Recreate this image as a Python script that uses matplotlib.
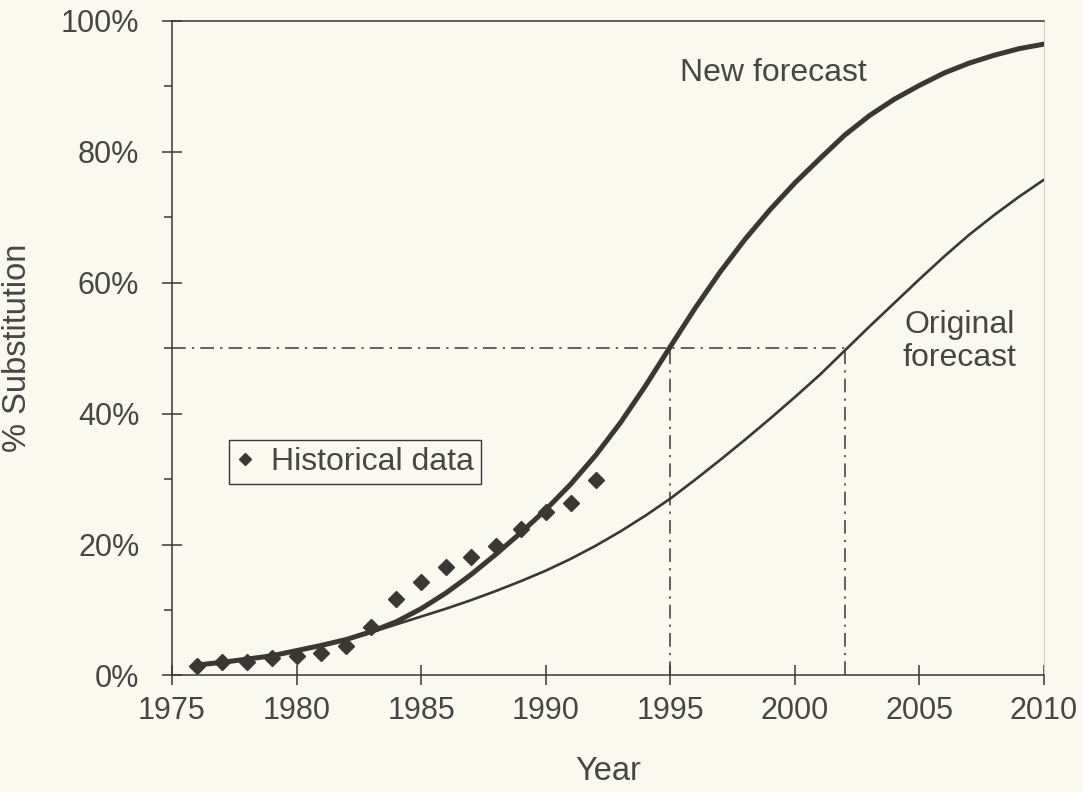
import matplotlib
matplotlib.use("Agg")
import matplotlib.pyplot as plt
from matplotlib.ticker import MultipleLocator, FuncFormatter

BG = "#f9f9ef"
INK = "#3a3734"
TXT = "#484643"

years = list(range(1976, 2011))

# substitution forecasts, %
new_forecast = [1.6, 2.0, 2.5, 3.0, 3.8, 4.6, 5.5, 6.7, 8.2, 10.2, 12.6, 15.4, 18.5, 21.8,
                25.3, 29.2, 33.6, 38.6, 44.2, 50.2, 56.1, 61.6, 66.6, 71.1, 75.2, 78.9,
                82.5, 85.5, 88.0, 90.1, 92.0, 93.5, 94.7, 95.7, 96.4]
original_forecast = [1.6, 2.0, 2.5, 3.0, 3.7, 4.5, 5.5, 6.6, 7.8, 9.0, 10.2, 11.5, 12.9, 14.4,
                     16.0, 17.8, 19.8, 22.0, 24.4, 27.0, 29.9, 32.9, 36.0, 39.2, 42.5, 45.9,
                     49.6, 53.3, 56.9, 60.5, 64.0, 67.3, 70.3, 73.1, 75.7]

hist_years = list(range(1976, 1993))
hist_values = [1.5, 2.0, 2.1, 2.7, 3.0, 3.4, 4.5, 7.4, 11.7, 14.2, 16.6, 18.1, 19.7, 22.4,
               24.9, 26.4, 29.8]

half_level = 50
cross_years = [1995, 2002]

plt.rcParams["font.family"] = ["Liberation Sans", "DejaVu Sans"]
plt.rcParams["font.size"] = 22

fig = plt.figure(figsize=(10.83, 7.92), dpi=100, facecolor=BG)
ax = fig.add_axes([0.1588, 0.1471, 0.8052, 0.8270], facecolor=BG)

# 50% reference lines
dashdot = (0, (9, 4, 1.5, 4))
ax.hlines(half_level, 1975, cross_years[1], colors=INK, lw=1.1, linestyles=[dashdot])
ax.vlines(cross_years, 0, half_level, colors=INK, lw=1.1, linestyles=[dashdot])

ax.plot(years, original_forecast, color=INK, lw=1.9, solid_capstyle="round")
ax.plot(years, new_forecast, color=INK, lw=3.6, solid_capstyle="round")
ax.plot(hist_years, hist_values, ls="none", marker="D", ms=8.5, color=INK,
        label="Historical data")

ax.text(1995.4, 92, "New forecast", ha="left", va="center", color=TXT, fontsize=23)
ax.text(2006.6, 51, "Original\nforecast", ha="center", va="center", color=TXT,
        fontsize=23, linespacing=1.15)

leg = ax.legend(loc="upper left", bbox_to_anchor=(0.065, 0.36), borderaxespad=0,
                frameon=True, fancybox=False, edgecolor=INK, facecolor=BG, framealpha=1,
                handlelength=0.6, handletextpad=0.5, borderpad=0.22,
                markerscale=0.7, fontsize=23, labelcolor=TXT)
leg.get_frame().set_linewidth(1.0)

ax.set_xlim(1975, 2010)
ax.set_ylim(0, 100)
ax.xaxis.set_major_locator(MultipleLocator(5))
ax.yaxis.set_major_locator(MultipleLocator(20))
ax.yaxis.set_minor_locator(MultipleLocator(10))
ax.yaxis.set_major_formatter(FuncFormatter(lambda v, p: f"{v:.0f}%"))

ax.tick_params(axis="both", which="major", direction="inout", length=15, width=1.1,
               color=INK, labelcolor=TXT, labelsize=22)
ax.tick_params(axis="x", which="major", pad=7)
ax.tick_params(axis="y", which="major", pad=16)
ax.tick_params(axis="y", which="minor", direction="out", length=6, width=1.1, color=INK)

for side in ["left", "bottom", "top"]:
    ax.spines[side].set_color(INK)
    ax.spines[side].set_linewidth(1.1)
ax.spines["right"].set_color("#cfcfc6")
ax.spines["right"].set_linewidth(0.7)

ax.set_xlabel("Year", color=TXT, fontsize=23.5, labelpad=22)
ax.set_ylabel("% Substitution", color=TXT, fontsize=23.5, labelpad=20)

fig.savefig("out.png", dpi=100, facecolor=BG)
